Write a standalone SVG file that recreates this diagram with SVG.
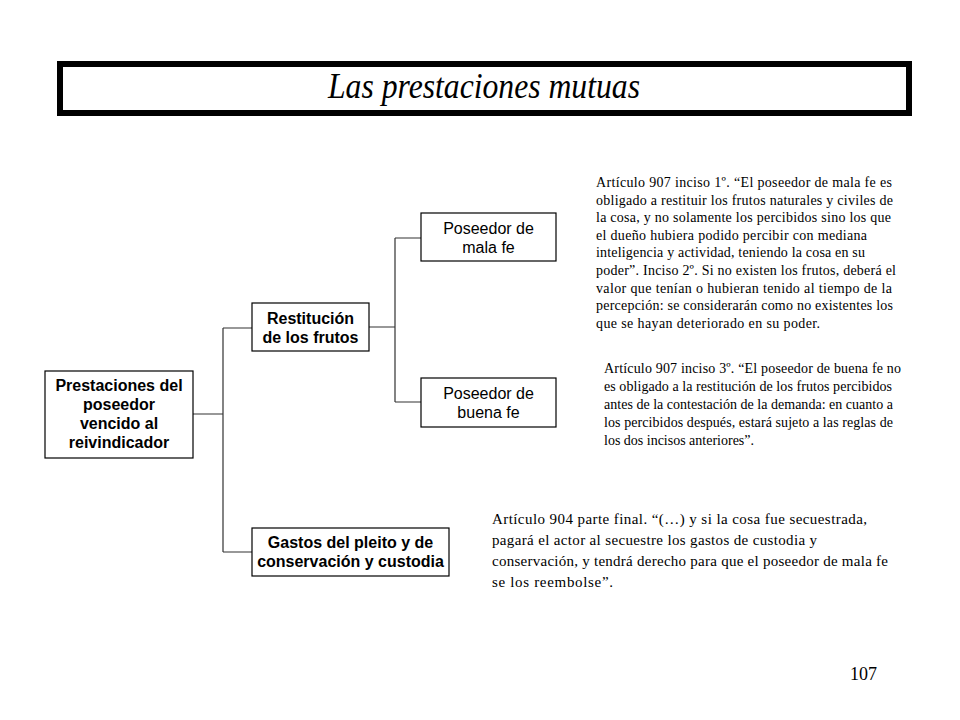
<svg xmlns="http://www.w3.org/2000/svg" width="960" height="720" viewBox="0 0 960 720">
<style>
.box{fill:#fff;stroke:#000;stroke-width:1.2}
.lbl{font-family:"Liberation Sans",Arial,sans-serif;font-size:16px;text-anchor:middle;fill:#000}
.b{font-weight:bold}
.art{font-family:"Liberation Serif","Times New Roman",serif;font-size:14px;fill:#000}
.art15{font-size:15px}
.conn{fill:none;stroke:#333;stroke-width:1.2}
</style>
<rect x="0" y="0" width="960" height="720" fill="#fff"/>
<g id="title">
<rect x="60" y="64" width="849" height="49" fill="#fff" stroke="#000" stroke-width="6"/>
<text x="484" y="98" font-family="Liberation Serif,'Times New Roman',serif" font-style="italic" font-size="35" text-anchor="middle" textLength="312" lengthAdjust="spacingAndGlyphs">Las prestaciones mutuas</text>
</g>
<g id="connectors">
<path class="conn" d="M193 414H223M223 328V552M223 328H252M223 552H252"/>
<path class="conn" d="M369 327H395M395 238V402M395 238H421M395 402H421"/>
</g>
<g id="prestaciones">
<rect class="box" x="45" y="371" width="148" height="87"/>
<text class="lbl b" x="119" y="391">Prestaciones del</text>
<text class="lbl b" x="119" y="410">poseedor</text>
<text class="lbl b" x="119" y="429">vencido al</text>
<text class="lbl b" x="119" y="448">reivindicador</text>
</g>
<g id="restitucion">
<rect class="box" x="252" y="303" width="117" height="48"/>
<text class="lbl b" x="310.5" y="324">Restitución</text>
<text class="lbl b" x="310.5" y="343">de los frutos</text>
</g>
<g id="gastos">
<rect class="box" x="252" y="528" width="197" height="48"/>
<text class="lbl b" x="350.5" y="548">Gastos del pleito y de</text>
<text class="lbl b" x="350.5" y="567">conservación y custodia</text>
</g>
<g id="mala-fe">
<rect class="box" x="421" y="213" width="135" height="48"/>
<text class="lbl" x="488.5" y="234">Poseedor de</text>
<text class="lbl" x="488.5" y="253">mala fe</text>
</g>
<g id="buena-fe">
<rect class="box" x="421" y="378" width="135" height="49"/>
<text class="lbl" x="488.5" y="399">Poseedor de</text>
<text class="lbl" x="488.5" y="418">buena fe</text>
</g>
<g id="art907-1">
<text class="art" x="596" y="187" textLength="296" lengthAdjust="spacing">Artículo 907 inciso 1º. “El poseedor de mala fe es</text>
<text class="art" x="596" y="204.6" textLength="297" lengthAdjust="spacing">obligado a restituir los frutos naturales y civiles de</text>
<text class="art" x="596" y="222.2" textLength="295" lengthAdjust="spacing">la cosa, y no solamente los percibidos sino los que</text>
<text class="art" x="596" y="239.8" textLength="271" lengthAdjust="spacing">el dueño hubiera podido percibir con mediana</text>
<text class="art" x="596" y="257.4" textLength="269" lengthAdjust="spacing">inteligencia y actividad, teniendo la cosa en su</text>
<text class="art" x="596" y="275" textLength="300" lengthAdjust="spacing">poder”. Inciso 2º. Si no existen los frutos, deberá el</text>
<text class="art" x="596" y="292.6" textLength="296" lengthAdjust="spacing">valor que tenían o hubieran tenido al tiempo de la</text>
<text class="art" x="596" y="310.2" textLength="297" lengthAdjust="spacing">percepción: se considerarán como no existentes los</text>
<text class="art" x="596" y="327.8" textLength="224" lengthAdjust="spacing">que se hayan deteriorado en su poder.</text>
</g>
<g id="art907-3">
<text class="art" x="604" y="373" textLength="297" lengthAdjust="spacing">Artículo 907 inciso 3º. “El poseedor de buena fe no</text>
<text class="art" x="604" y="391" textLength="288" lengthAdjust="spacing">es obligado a la restitución de los frutos percibidos</text>
<text class="art" x="604" y="409" textLength="289" lengthAdjust="spacing">antes de la contestación de la demanda: en cuanto a</text>
<text class="art" x="604" y="427" textLength="289" lengthAdjust="spacing">los percibidos después, estará sujeto a las reglas de</text>
<text class="art" x="604" y="445" textLength="150" lengthAdjust="spacing">los dos incisos anteriores”.</text>
</g>
<g id="art904">
<text class="art art15" x="492" y="524" textLength="375" lengthAdjust="spacing">Artículo 904 parte final. “(…) y si la cosa fue secuestrada,</text>
<text class="art art15" x="492" y="545" textLength="325" lengthAdjust="spacing">pagará el actor al secuestre los gastos de custodia y</text>
<text class="art art15" x="492" y="566" textLength="396" lengthAdjust="spacing">conservación, y tendrá derecho para que el poseedor de mala fe</text>
<text class="art art15" x="492" y="587" textLength="121" lengthAdjust="spacing">se los reembolse”.</text>
</g>
<text x="850" y="680" font-family="Liberation Serif,'Times New Roman',serif" font-size="18" textLength="27" lengthAdjust="spacingAndGlyphs">107</text>
</svg>
